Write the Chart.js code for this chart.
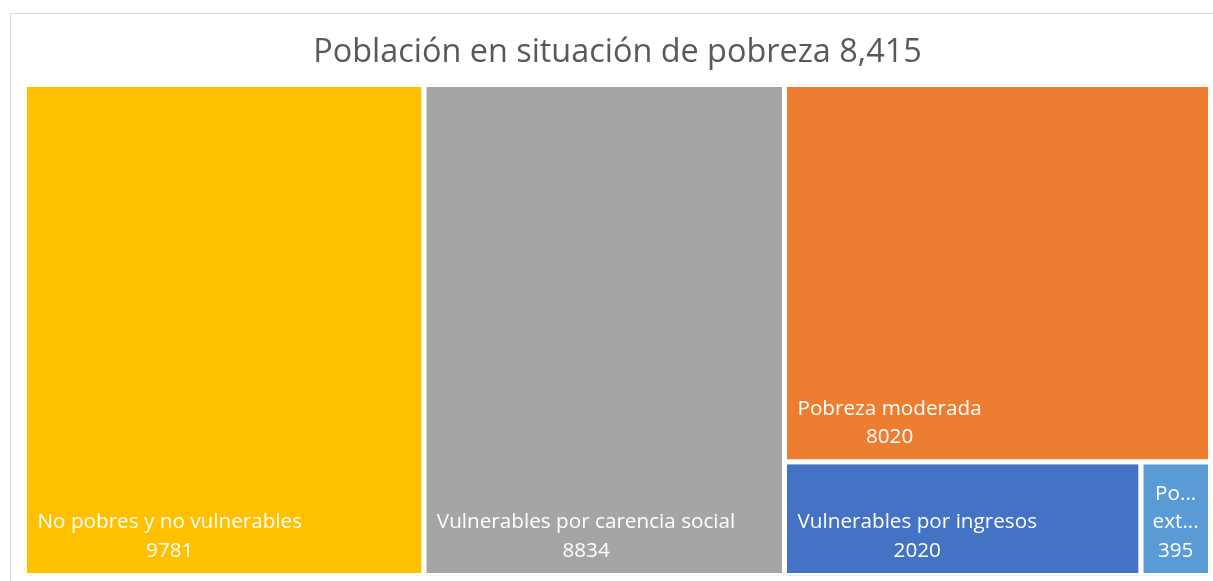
<!DOCTYPE html>
<html>
<head>
<meta charset="utf-8">
<script src="https://cdn.jsdelivr.net/npm/chart.js@4/dist/chart.umd.min.js"></script>
<style>
  html, body { margin:0; padding:0; background:#fff; overflow:hidden; }
  #wrap { position:relative; width:1213px; height:581px; }
  #frame { position:absolute; left:10px; top:13px; width:1220px; height:600px; border:1px solid #d9d9d9; box-sizing:border-box; }
  #c { position:absolute; left:0; top:0; }
</style>
</head>
<body>
<div id="wrap">
  <div id="frame"></div>
  <canvas id="c" width="1213" height="581"></canvas>
</div>
<script>
const titleText = "Población en situación de pobreza 8,415";
const categories = ["No pobres y no vulnerables", "Vulnerables por carencia social", "Pobreza moderada", "Vulnerables por ingresos", "Pobreza extrema"];
const values = [9781, 8834, 8020, 2020, 395];
const colors = ["#FFC000", "#A5A5A5", "#ED7D31", "#4472C4", "#5B9BD5"];

const LABEL_FONT = '20.7px "Open Sans"';

function worst(row, s) {
  let sum = 0, mx = -Infinity, mn = Infinity;
  row.forEach(r => { sum += r.area; mx = Math.max(mx, r.area); mn = Math.min(mn, r.area); });
  return Math.max(s * s * mx / (sum * sum), (sum * sum) / (s * s * mn));
}

function squarify(items, x, y, w, h) {
  const out = [];
  let rem = items.slice();
  while (rem.length) {
    const s = Math.min(w, h);
    const row = [rem[0]];
    let i = 1;
    while (i < rem.length && worst(row.concat([rem[i]]), s) <= worst(row, s)) { row.push(rem[i]); i++; }
    const sum = row.reduce((a, r) => a + r.area, 0);
    if (w >= h) {
      const cw = sum / h; let cy = y;
      row.forEach(r => { const rh = r.area / cw; out.push({ idx: r.idx, x0: x, y0: cy, x1: x + cw, y1: cy + rh }); cy += rh; });
      x += cw; w -= cw;
    } else {
      const rh = sum / w; let cx = x;
      row.forEach(r => { const rw = r.area / rh; out.push({ idx: r.idx, x0: cx, y0: y, x1: cx + rw, y1: y + rh }); cx += rw; });
      y += rh; h -= rh;
    }
    rem = rem.slice(i);
  }
  return out;
}

let rects = [];

const labelPlugin = {
  id: 'treemapLabels',
  afterDatasetsDraw(chart) {
    const ctx = chart.ctx, xs = chart.scales.x, ys = chart.scales.y;
    ctx.save();
    ctx.font = LABEL_FONT;
    ctx.fillStyle = '#ffffff';
    ctx.textBaseline = 'middle';
    const pad = 10.5, truncPad = 7, bw = 2.5, lh = 28.5;
    rects.forEach(r => {
      const L = xs.getPixelForValue(r.x0) + bw, R = xs.getPixelForValue(r.x1) - bw;
      const B = ys.getPixelForValue(r.y1) - bw;
      const avail = R - L - 2 * pad;
      const label = categories[r.idx];
      let lines;
      let narrow = false;
      if (ctx.measureText(label).width <= avail) {
        lines = [label];
      } else {
        narrow = true;
        const av2 = R - L - 2 * truncPad;
        lines = label.split(' ').map(wd => {
          if (ctx.measureText(wd).width <= av2) return wd;
          let t = wd;
          while (t.length > 1 && ctx.measureText(t + '...').width > av2) t = t.slice(0, -1);
          return t + '...';
        });
        lines = lines.slice(0, 2);
      }
      lines.push(String(values[r.idx]));
      const blockW = Math.max(...lines.map(l => ctx.measureText(l).width));
      let left = L + pad;
      if (narrow) left = (L + R) / 2 - blockW / 2;
      const cx = left + blockW / 2;
      ctx.textAlign = 'center';
      const n = lines.length;
      lines.forEach((l, k) => {
        const yy = B - 22 - (n - 1 - k) * lh;
        ctx.fillText(l, cx, yy);
      });
    });
    ctx.restore();
  }
};

const chart = new Chart(document.getElementById('c'), {
  type: 'scatter',
  data: { datasets: [] },
  options: {
    responsive: false,
    animation: false,
    devicePixelRatio: 1,
    layout: { padding: { left: 24.5, right: 2.5, top: 0, bottom: 5.5 } },
    scales: {
      x: { type: 'linear', min: 0, max: 1, display: false },
      y: { type: 'linear', min: 0, max: 1, reverse: true, display: false }
    },
    plugins: {
      legend: { display: false },
      tooltip: { enabled: false },
      title: {
        display: true,
        text: titleText,
        color: '#595959',
        font: { family: '"Open Sans"', size: 32.4, weight: 'normal' },
        padding: { top: 33, bottom: 12.6 }
      }
    }
  },
  plugins: [labelPlugin]
});

const area = chart.chartArea;
const W = area.right - area.left, H = area.bottom - area.top;
const total = values.reduce((a, b) => a + b, 0);
const items = values.map((v, i) => ({ idx: i, area: v / total * W * H })).sort((a, b) => b.area - a.area);
rects = squarify(items, 0, 0, W, H).map(r => ({ idx: r.idx, x0: r.x0 / W, x1: r.x1 / W, y0: r.y0 / H, y1: r.y1 / H }));

chart.data.datasets = rects.map(r => ({
  label: categories[r.idx],
  data: [
    { x: r.x0, y: r.y0 }, { x: r.x1, y: r.y0 }, { x: r.x1, y: r.y1 }, { x: r.x0, y: r.y1 }, { x: r.x0, y: r.y0 }
  ],
  showLine: true,
  fill: 'shape',
  backgroundColor: colors[r.idx],
  borderColor: '#ffffff',
  borderWidth: 5,
  borderJoinStyle: 'miter',
  tension: 0,
  pointRadius: 0,
  pointHoverRadius: 0
}));
chart.update();
</script>
</body>
</html>
